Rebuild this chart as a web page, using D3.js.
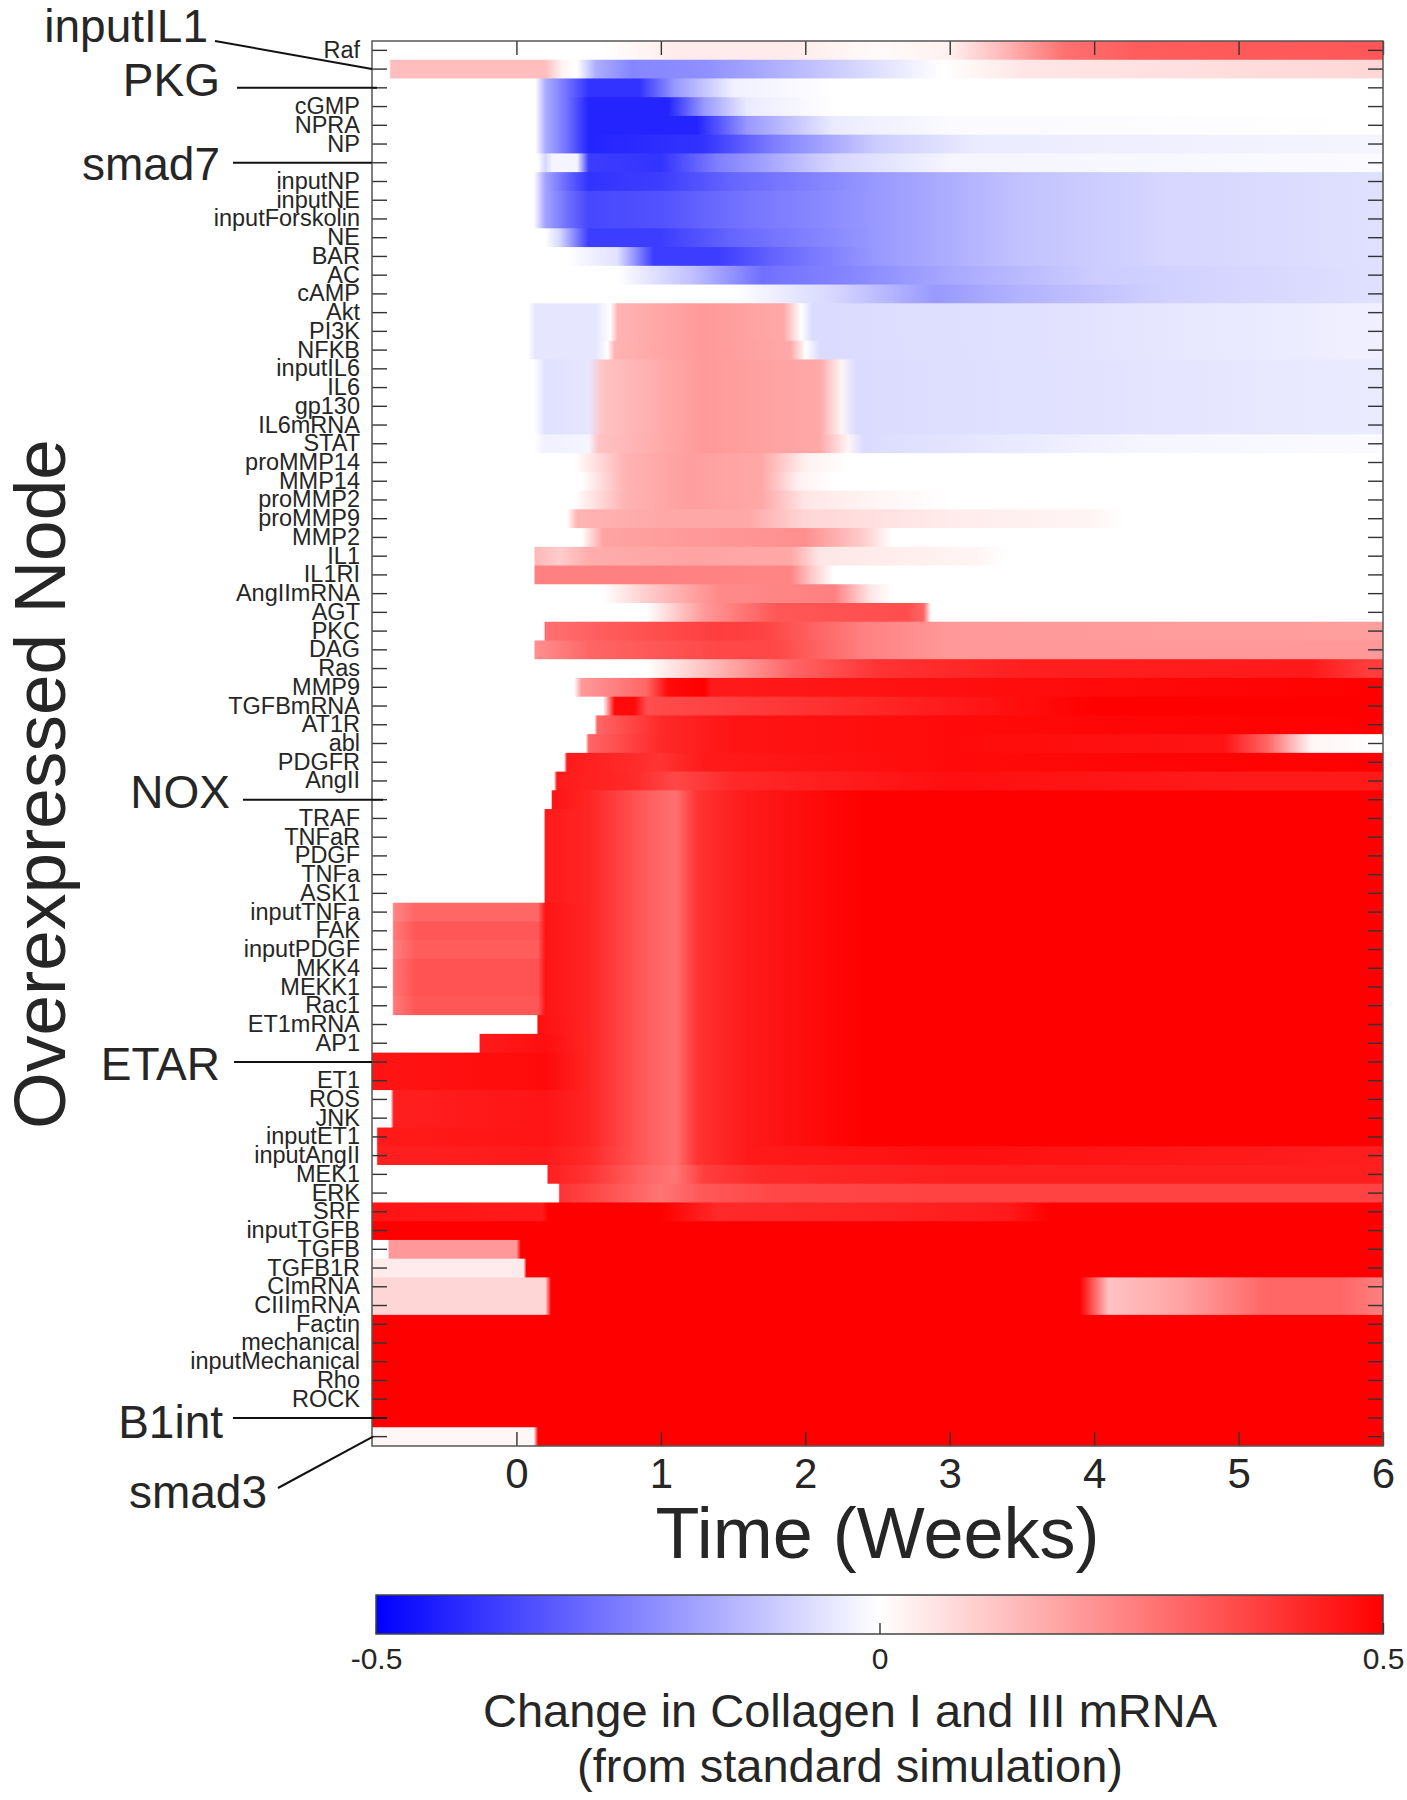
<!DOCTYPE html>
<html>
<head>
<meta charset="utf-8">
<script src="https://cdn.jsdelivr.net/npm/d3@7"></script>
<style>
  body { margin: 0; background: #fff; }
  svg { display: block; }
  text { font-family: "Liberation Sans", Arial, Helvetica, sans-serif; fill: #262626; }
</style>
</head>
<body>
<script>
const width = 1407;
const height = 1800;

// Row order, top to bottom
const nodes = [
  "Raf", "inputIL1", "PKG", "cGMP", "NPRA", "NP", "smad7", "inputNP", "inputNE",
  "inputForskolin", "NE", "BAR", "AC", "cAMP", "Akt", "PI3K", "NFKB", "inputIL6",
  "IL6", "gp130", "IL6mRNA", "STAT", "proMMP14", "MMP14", "proMMP2", "proMMP9",
  "MMP2", "IL1", "IL1RI", "AngIImRNA", "AGT", "PKC", "DAG", "Ras", "MMP9",
  "TGFBmRNA", "AT1R", "abl", "PDGFR", "AngII", "NOX", "TRAF", "TNFaR", "PDGF",
  "TNFa", "ASK1", "inputTNFa", "FAK", "inputPDGF", "MKK4", "MEKK1", "Rac1",
  "ET1mRNA", "AP1", "ETAR", "ET1", "ROS", "JNK", "inputET1", "inputAngII", "MEK1",
  "ERK", "SRF", "inputTGFB", "TGFB", "TGFB1R", "CImRNA", "CIIImRNA", "Factin",
  "mechanical", "inputMechanical", "Rho", "ROCK", "B1int", "smad3"
];
// nodes labelled with a big call-out instead of a tick label
const callouts = ["inputIL1", "PKG", "smad7", "NOX", "ETAR", "B1int", "smad3"];
const timeTicks = [0, 1, 2, 3, 4, 5, 6];
const colorTicks = [-0.5, 0, 0.5];

// keyframes [week, change], one list per row
// common tail of the strongly red rows (dip at ~1 week, then saturated)
const redTail = [[0.5, 0.43], [0.9, 0.32], [1.1, 0.28], [1.25, 0.4], [1.6, 0.45], [2.4, 0.5], [6, 0.5]];

const cAmpRows = [
  [[-1, 0], [0.6, 0], [1.1, 0.04], [1.9, 0.04], [2.5, 0.01], [3.0, 0.03], [3.4, 0.15], [3.8, 0.28], [4.3, 0.32], [6, 0.33]],
  [[-1, 0], [-0.88, 0], [-0.87, 0.13], [0.2, 0.13], [0.32, 0.02], [0.42, 0], [0.55, -0.16], [0.8, -0.24], [1.3, -0.22], [2.0, -0.13], [2.6, -0.05], [2.95, 0], [3.5, 0.05], [6, 0.08]],
  [[-1, 0], [0.13, 0], [0.2, -0.16], [0.35, -0.28], [0.5, -0.4], [0.85, -0.4], [1.1, -0.2], [1.5, -0.03], [2.2, 0], [6, 0]],
  [[-1, 0], [0.13, 0], [0.2, -0.16], [0.35, -0.28], [0.5, -0.43], [1.05, -0.43], [1.3, -0.2], [1.6, -0.04], [2.2, 0], [6, 0]],
  [[-1, 0], [0.13, 0], [0.2, -0.16], [0.35, -0.28], [0.5, -0.43], [1.25, -0.43], [1.6, -0.2], [2.2, -0.04], [3, -0.01], [6, 0]],
  [[-1, 0], [0.13, 0], [0.2, -0.16], [0.35, -0.28], [0.5, -0.43], [1.3, -0.4], [1.8, -0.25], [2.5, -0.1], [3.2, -0.04], [6, -0.02]],
  [[-1, 0], [0.15, 0], [0.2, -0.08], [0.25, -0.02], [0.42, -0.02], [0.5, -0.38], [1.0, -0.4], [1.4, -0.25], [2.2, -0.08], [3, -0.02], [6, -0.01]],
  [[-1, 0], [0.12, 0], [0.2, -0.18], [0.35, -0.3], [0.5, -0.4], [1.0, -0.38], [1.5, -0.3], [2.5, -0.2], [3.5, -0.12], [4.5, -0.08], [6, -0.06]],
  [[-1, 0], [0.12, 0], [0.2, -0.18], [0.35, -0.28], [0.5, -0.36], [1.0, -0.34], [1.5, -0.28], [2.5, -0.2], [3.5, -0.12], [4.5, -0.08], [6, -0.06]],
  [[-1, 0], [0.12, 0], [0.2, -0.18], [0.35, -0.28], [0.5, -0.36], [1.0, -0.34], [1.5, -0.28], [2.5, -0.2], [3.5, -0.12], [4.5, -0.08], [6, -0.06]],
  [[-1, 0], [0.2, 0], [0.3, -0.08], [0.5, -0.38], [1.0, -0.38], [1.5, -0.3], [2.5, -0.2], [3.5, -0.12], [4.5, -0.08], [6, -0.06]],
  [[-1, 0], [0.35, 0], [0.7, -0.06], [0.95, -0.38], [1.4, -0.38], [1.8, -0.3], [2.5, -0.2], [3.5, -0.12], [4.5, -0.08], [6, -0.06]],
  [[-1, 0], [0.7, 0], [1.2, -0.12], [1.7, -0.28], [2.3, -0.24], [3, -0.17], [4, -0.1], [6, -0.06]],
  [[-1, 0], [1.5, 0], [2.2, -0.08], [2.9, -0.2], [3.5, -0.15], [4.5, -0.09], [6, -0.06]]
];

const il6Rows = [
  [[-1, 0], [0.08, 0], [0.13, -0.05], [0.55, -0.05], [0.65, 0], [0.7, 0.15], [1.3, 0.2], [1.85, 0.17], [1.97, 0], [2.05, -0.07], [3.5, -0.06], [6, -0.03]],
  [[-1, 0], [0.08, 0], [0.13, -0.05], [0.55, -0.05], [0.65, 0], [0.7, 0.15], [1.3, 0.2], [1.85, 0.17], [1.97, 0], [2.05, -0.07], [3.5, -0.06], [6, -0.03]],
  [[-1, 0], [0.08, 0], [0.13, -0.05], [0.55, -0.05], [0.63, 0], [0.68, 0.15], [1.3, 0.2], [1.9, 0.17], [2.0, 0], [2.1, -0.07], [3.5, -0.06], [6, -0.03]],
  [[-1, 0], [0.12, 0], [0.2, -0.06], [0.5, -0.05], [0.6, 0.12], [1.3, 0.2], [2.1, 0.17], [2.25, 0.02], [2.35, -0.07], [3.5, -0.06], [6, -0.04]],
  [[-1, 0], [0.12, 0], [0.2, -0.06], [0.5, -0.05], [0.6, 0.12], [1.3, 0.2], [2.1, 0.17], [2.25, 0.02], [2.35, -0.07], [3.5, -0.06], [6, -0.04]],
  [[-1, 0], [0.12, 0], [0.2, -0.06], [0.5, -0.05], [0.6, 0.12], [1.3, 0.2], [2.1, 0.17], [2.25, 0.02], [2.35, -0.07], [3.5, -0.06], [6, -0.04]],
  [[-1, 0], [0.12, 0], [0.2, -0.06], [0.5, -0.05], [0.6, 0.12], [1.3, 0.2], [2.1, 0.17], [2.25, 0.02], [2.35, -0.07], [3.5, -0.06], [6, -0.04]],
  [[-1, 0], [0.12, 0], [0.2, -0.03], [0.5, -0.02], [0.57, 0.12], [1.3, 0.2], [2.1, 0.17], [2.3, 0.02], [2.4, -0.07], [3.2, -0.05], [4.3, -0.02], [6, -0.01]]
];

const mmpRows = [
  [[-1, 0], [0.4, 0], [0.75, 0.15], [1.2, 0.19], [1.7, 0.17], [2.0, 0.03], [2.3, 0], [6, 0]],
  [[-1, 0], [0.45, 0], [0.75, 0.15], [1.2, 0.19], [1.7, 0.17], [1.95, 0.03], [2.2, 0], [6, 0]],
  [[-1, 0], [0.4, 0], [0.75, 0.15], [1.2, 0.19], [1.7, 0.17], [2.0, 0.05], [2.5, 0.02], [3, 0], [6, 0]],
  [[-1, 0], [0.35, 0], [0.42, 0.15], [1.0, 0.17], [1.6, 0.17], [2.0, 0.08], [3, 0.04], [4, 0.02], [4.2, 0], [6, 0]],
  [[-1, 0], [0.45, 0], [0.6, 0.18], [1.2, 0.2], [2.0, 0.22], [2.4, 0.1], [2.6, 0], [6, 0]],
  [[-1, 0], [0.12, 0], [0.13, 0.14], [0.3, 0.1], [0.5, 0.16], [1.2, 0.18], [1.9, 0.17], [2.1, 0.05], [3.2, 0.02], [3.4, 0], [6, 0]],
  [[-1, 0], [0.12, 0], [0.13, 0.25], [1.0, 0.25], [1.9, 0.24], [2.05, 0.1], [2.2, 0], [6, 0]],
  [[-1, 0], [0.6, 0], [0.9, 0.1], [1.4, 0.23], [2.2, 0.25], [2.45, 0.05], [2.6, 0], [6, 0]],
  [[-1, 0], [0.9, 0], [1.3, 0.2], [1.8, 0.33], [2.7, 0.35], [2.82, 0.3], [2.87, 0], [6, 0]],
  [[-1, 0], [0.19, 0], [0.2, 0.28], [0.6, 0.32], [1.4, 0.38], [1.7, 0.37], [2.4, 0.25], [3, 0.2], [6, 0.19]],
  [[-1, 0], [0.12, 0], [0.13, 0.22], [0.5, 0.3], [1.4, 0.36], [1.8, 0.36], [2.4, 0.25], [3, 0.2], [6, 0.2]]
];

const redRows = [
  [[-1, 0], [0.9, 0], [1.3, 0.12], [1.9, 0.3], [2.5, 0.4], [3.5, 0.44], [5.5, 0.45], [5.9, 0.38], [6, 0.38]],
  [[-1, 0], [0.4, 0], [0.45, 0.2], [0.9, 0.3], [1.05, 0.48], [1.3, 0.5], [1.35, 0.45], [3, 0.47], [6, 0.5]],
  [[-1, 0], [0.6, 0], [0.68, 0.48], [0.82, 0.48], [0.9, 0.35], [2, 0.4], [3, 0.45], [4, 0.5], [6, 0.5]],
  [[-1, 0], [0.54, 0], [0.56, 0.3], [1.0, 0.42], [1.5, 0.46], [3, 0.48], [6, 0.5]],
  [[-1, 0], [0.48, 0], [0.5, 0.3], [1.0, 0.42], [1.5, 0.46], [3, 0.48], [4.9, 0.46], [5.2, 0.3], [5.5, 0.02], [6, 0]],
  [[-1, 0], [0.33, 0], [0.35, 0.45], [1.0, 0.4], [1.3, 0.45], [3, 0.48], [6, 0.5]],
  [[-1, 0], [0.26, 0], [0.28, 0.45], [0.8, 0.42], [1.1, 0.36], [1.5, 0.42], [3, 0.47], [5, 0.45], [6, 0.45]],
  [[-1, 0], [0.24, 0], [0.25, 0.46], ...redTail],
  [[-1, 0], [0.19, 0], [0.2, 0.45], ...redTail],
  [[-1, 0], [0.19, 0], [0.2, 0.45], ...redTail],
  [[-1, 0], [0.19, 0], [0.2, 0.45], ...redTail],
  [[-1, 0], [0.19, 0], [0.2, 0.45], ...redTail],
  [[-1, 0], [0.19, 0], [0.2, 0.45], ...redTail],
  [[-1, 0], [-0.86, 0], [-0.85, 0.24], [-0.7, 0.3], [0.15, 0.3], [0.2, 0.46], ...redTail],
  [[-1, 0], [-0.86, 0], [-0.85, 0.26], [-0.7, 0.33], [0.15, 0.33], [0.2, 0.46], ...redTail],
  [[-1, 0], [-0.86, 0], [-0.85, 0.25], [-0.7, 0.32], [0.15, 0.32], [0.2, 0.46], ...redTail],
  [[-1, 0], [-0.86, 0], [-0.85, 0.27], [-0.7, 0.34], [0.15, 0.34], [0.2, 0.46], ...redTail],
  [[-1, 0], [-0.86, 0], [-0.85, 0.27], [-0.7, 0.34], [0.15, 0.34], [0.2, 0.46], ...redTail],
  [[-1, 0], [-0.86, 0], [-0.85, 0.26], [-0.7, 0.33], [0.15, 0.33], [0.2, 0.46], ...redTail],
  [[-1, 0], [0.14, 0], [0.15, 0.47], ...redTail],
  [[-1, 0], [-0.26, 0], [-0.25, 0.45], [0.2, 0.47], ...redTail],
  [[-1, 0.46], [0.2, 0.48], ...redTail],
  [[-1, 0.46], [0.2, 0.48], ...redTail],
  [[-1, 0], [-0.87, 0], [-0.85, 0.44], [0.2, 0.46], ...redTail],
  [[-1, 0], [-0.87, 0], [-0.85, 0.44], [0.2, 0.46], ...redTail],
  [[-1, 0], [-0.97, 0], [-0.96, 0.45], [0.2, 0.46], ...redTail],
  [[-1, 0], [-0.97, 0], [-0.96, 0.44], [0.2, 0.45], [0.5, 0.42], [0.9, 0.32], [1.1, 0.28], [1.25, 0.4], [1.6, 0.45], [3, 0.47], [6, 0.44]],
  [[-1, 0], [0.21, 0], [0.22, 0.44], [0.5, 0.4], [0.9, 0.3], [1.1, 0.27], [1.3, 0.38], [1.7, 0.42], [3, 0.44], [6, 0.44]],
  [[-1, 0], [0.29, 0], [0.3, 0.4], [0.6, 0.35], [1.0, 0.27], [1.3, 0.33], [1.8, 0.36], [3, 0.37], [6, 0.37]]
];

const tgfbRows = [
  [[-1, 0.46], [0.18, 0.45], [0.22, 0.5], [1.0, 0.5], [1.4, 0.42], [2.5, 0.43], [3.4, 0.45], [3.7, 0.5], [6, 0.5]],
  [[-1, 0.5], [6, 0.5]],
  [[-1, 0], [-0.89, 0], [-0.88, 0.2], [0.0, 0.2], [0.03, 0.5], [6, 0.5]],
  [[-1, 0.04], [0.05, 0.04], [0.07, 0.5], [6, 0.5]],
  [[-1, 0.08], [0.2, 0.08], [0.24, 0.5], [3.9, 0.5], [4.1, 0.12], [4.6, 0.18], [5.2, 0.3], [5.7, 0.3], [6, 0.25]],
  [[-1, 0.08], [0.2, 0.08], [0.24, 0.5], [3.9, 0.5], [4.1, 0.12], [4.6, 0.18], [5.2, 0.3], [5.7, 0.3], [6, 0.25]],
  [[-1, 0.5], [6, 0.5]],
  [[-1, 0.5], [6, 0.5]],
  [[-1, 0.5], [6, 0.5]],
  [[-1, 0.5], [6, 0.5]],
  [[-1, 0.5], [6, 0.5]],
  [[-1, 0.5], [6, 0.5]],
  [[-1, 0.015], [0.12, 0.015], [0.15, 0.5], [6, 0.5]]
];

const profiles = [...cAmpRows, ...il6Rows, ...mmpRows, ...redRows, ...tgfbRows];
const rows = nodes.map((name, i) => ({ name, keys: profiles[i] }));

// layout
const pLeft = 372, pRight = 1383, pTop = 41, pBottom = 1446;
const TICK = 15;

const svg = d3.select("body").append("svg")
  .attr("width", width)
  .attr("height", height);

const x = d3.scaleLinear().domain([-1, 6]).range([pLeft, pRight]);
const y = d3.scaleBand().domain(nodes).range([pTop, pBottom]);
const color = d3.scaleLinear()
  .domain([-0.5, 0, 0.5])
  .range(["#0000ff", "#ffffff", "#ff0000"])
  .clamp(true);

const defs = svg.append("defs");
const x0 = x.range()[0], x1 = x.range()[1];

// one horizontal gradient per row
const grads = defs.selectAll("linearGradient.row")
  .data(rows)
  .join("linearGradient")
  .attr("class", "row")
  .attr("id", (d, i) => "row" + i)
  .attr("gradientUnits", "userSpaceOnUse")
  .attr("x1", x0).attr("x2", x1)
  .attr("y1", 0).attr("y2", 0);
grads.selectAll("stop")
  .data(d => d.keys)
  .join("stop")
  .attr("offset", k => (x(k[0]) - x0) / (x1 - x0))
  .attr("stop-color", k => color(k[1]));

svg.append("g")
  .selectAll("rect")
  .data(rows)
  .join("rect")
  .attr("x", x0)
  .attr("y", d => y(d.name))
  .attr("width", x1 - x0)
  .attr("height", (d, i) => y.bandwidth() + (i < rows.length - 1 ? 1 : 0))
  .attr("fill", (d, i) => `url(#row${i})`);

// axes, ticks pointing inward like matlab
const styleAxis = g => {
  g.select(".domain").remove();
  g.selectAll(".tick line").attr("stroke", "#333").attr("stroke-width", 1.4);
  g.attr("color", "#262626").attr("font-family", null);
};

svg.append("g")
  .attr("transform", `translate(0,${pBottom})`)
  .call(d3.axisBottom(x).tickValues(timeTicks).tickSize(-14).tickPadding(12)
    .tickFormat(d3.format("d")))
  .call(styleAxis)
  .attr("font-size", 42);

svg.append("g")
  .attr("transform", `translate(0,${pTop})`)
  .call(d3.axisTop(x).tickValues(timeTicks).tickSize(-14).tickFormat(""))
  .call(styleAxis);

svg.append("g")
  .attr("transform", `translate(${pLeft},0)`)
  .call(d3.axisLeft(y).tickSize(-TICK).tickPadding(12)
    .tickFormat(d => callouts.includes(d) ? "" : d))
  .call(styleAxis)
  .attr("font-size", 23.5);

svg.append("g")
  .attr("transform", `translate(${pRight},0)`)
  .call(d3.axisRight(y).tickSize(-TICK).tickFormat(""))
  .call(styleAxis);

// frame
svg.append("rect")
  .attr("x", pLeft).attr("y", pTop)
  .attr("width", pRight - pLeft).attr("height", pBottom - pTop)
  .attr("fill", "none")
  .attr("stroke", "#555")
  .attr("stroke-width", 1.5);

// big call-out labels with leader lines
const yc = n => y(n) + y.bandwidth() / 2;
const calloutPos = [
  { name: "inputIL1", tx: 208, ty: 42, lx: 215, ly: 41, ex: pLeft },
  { name: "PKG", tx: 220, ty: 96, lx: 237, ly: null, ex: pLeft + 5 },
  { name: "smad7", tx: 220, ty: 180, lx: 233, ly: null, ex: pLeft },
  { name: "NOX", tx: 230, ty: 808, lx: 243, ly: null, ex: pLeft + 11 },
  { name: "ETAR", tx: 220, ty: 1080, lx: 234, ly: null, ex: pLeft },
  { name: "B1int", tx: 223, ty: 1438, lx: 233, ly: null, ex: pLeft + 15 },
  { name: "smad3", tx: 267, ty: 1508, lx: 278, ly: 1488, ex: pLeft + 1 }
];

const co = svg.append("g");
co.selectAll("line")
  .data(calloutPos)
  .join("line")
  .attr("x1", d => d.lx)
  .attr("y1", d => d.ly === null ? yc(d.name) : d.ly)
  .attr("x2", d => d.ex)
  .attr("y2", d => yc(d.name))
  .attr("stroke", "#111")
  .attr("stroke-width", 2);
co.selectAll("text")
  .data(calloutPos)
  .join("text")
  .attr("x", d => d.tx)
  .attr("y", d => d.ty)
  .attr("text-anchor", "end")
  .attr("font-size", 46)
  .text(d => d.name);

// axis titles
svg.append("text")
  .attr("transform", "translate(65,784) rotate(-90)")
  .attr("text-anchor", "middle")
  .attr("font-size", 73)
  .text("Overexpressed Node");

svg.append("text")
  .attr("x", (pLeft + pRight) / 2)
  .attr("y", 1558)
  .attr("text-anchor", "middle")
  .attr("font-size", 72)
  .text("Time (Weeks)");

// colorbar
const cb = { x0: 376, x1: 1383, y0: 1595, y1: 1634 };
const cx = d3.scaleLinear().domain([-0.5, 0.5]).range([cb.x0, cb.x1]);
const cbGrad = defs.append("linearGradient")
  .attr("id", "cbar")
  .attr("x1", 0).attr("x2", 1).attr("y1", 0).attr("y2", 0);
cbGrad.selectAll("stop")
  .data(color.domain())
  .join("stop")
  .attr("offset", v => (cx(v) - cb.x0) / (cb.x1 - cb.x0))
  .attr("stop-color", v => color(v));

svg.append("rect")
  .attr("x", cb.x0).attr("y", cb.y0)
  .attr("width", cb.x1 - cb.x0).attr("height", cb.y1 - cb.y0)
  .attr("fill", "url(#cbar)")
  .attr("stroke", "#444")
  .attr("stroke-width", 1.5);

svg.append("g")
  .attr("transform", `translate(0,${cb.y1})`)
  .call(d3.axisBottom(cx).tickValues(colorTicks).tickSize(-11).tickPadding(14)
    .tickFormat(d => String(d)))
  .call(styleAxis)
  .attr("font-size", 30);

svg.append("text")
  .attr("x", 850).attr("y", 1727)
  .attr("text-anchor", "middle")
  .attr("font-size", 47)
  .text("Change in Collagen I and III mRNA");

svg.append("text")
  .attr("x", 850).attr("y", 1782)
  .attr("text-anchor", "middle")
  .attr("font-size", 47)
  .text("(from standard simulation)");
</script>
</body>
</html>
